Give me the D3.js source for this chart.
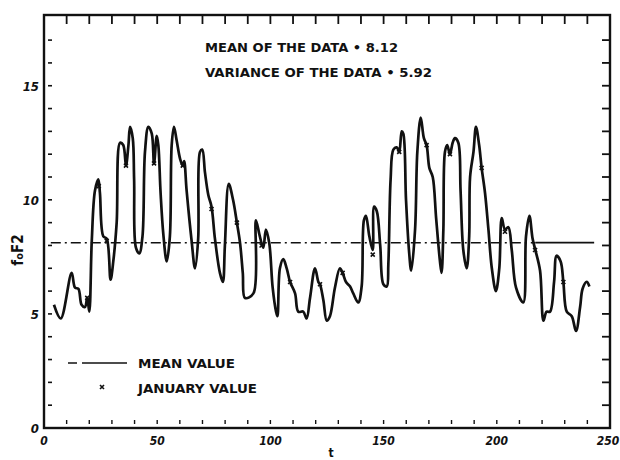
<!DOCTYPE html>
<html>
<head>
<meta charset="utf-8">
<script src="https://cdn.jsdelivr.net/npm/d3@7"></script>
<style>
  html, body { margin: 0; padding: 0; background: #fff; }
  svg { display: block; }
  text { font-family: "DejaVu Sans Condensed", "Liberation Sans Narrow", "DejaVu Sans", sans-serif; font-weight: bold; fill: #111; }
</style>
</head>
<body>
<svg id="chart" width="620" height="460"></svg>
<script>
// ---- data ----
const tValues = [4.4,7.4,12.2,13.7,15.2,16.6,18.1,19.1,20,21.1,22.5,24,24.7,26.2,27.7,29.4,30.6,32.1,33.6,35,36.2,37.3,38,39.2,39.8,40.6,42.1,43.5,44.6,46.1,47.6,48.6,49.8,50.5,51.5,52.7,54.2,55.6,56.4,57.4,58.6,60.1,61.3,61.9,63,65.2,66.7,68.1,68.9,69.9,71.1,72.6,74,75.5,77.7,79,79.9,81.6,83.5,85.2,86.6,87.8,88.8,92.5,93.6,95.1,96.1,96.9,98,99.5,101,102.5,103.1,104.2,105.7,107.2,108.7,110.9,112.3,114.5,116,117.5,119.7,121.2,121.9,123.4,124.9,126.3,128.5,130.7,131.9,133.4,135.2,136.6,138.8,140.3,141.3,142.2,143.7,145.2,145.8,147,148.5,149.9,151.4,152.1,153.1,154.3,155.8,156.9,158,158.7,159.9,161.2,162.2,163.9,164.9,166.4,167.8,169,170.2,171.7,173.2,174.9,175.6,176.4,177.1,178.1,179.3,180.5,181.5,183,184,185.2,186.7,187.8,188.2,189.7,190.8,192.2,193.3,194.8,196.3,197.8,199.6,201.1,202.2,203.6,205.1,206.6,208.5,211.7,212.9,214.4,215.8,216.9,219.1,220.6,222,223.5,225.3,226.4,228.2,229.4,230.9,233.1,235,236.8,237.9,239.7,240.9];
const foF2 = [5.4,4.8,6.8,6.15,6.1,5.4,5.3,5.7,5.1,8.2,10.4,10.9,10.3,8.4,8.3,6.5,7.3,9.0,12.5,12.4,11.5,12.4,13.2,12.7,10.9,7.9,7.65,8.4,12.1,13.2,12.9,11.6,12.8,12.4,10.3,8.5,7.3,8.4,12.4,13.2,12.6,11.8,11.5,11.7,10.4,8.2,7.0,8.3,12.1,12.2,11.2,10.2,9.7,8.3,6.8,6.4,8.0,10.7,10.0,9.0,8.1,6.8,5.7,5.9,9.1,8.5,8.1,7.9,8.7,8.1,6.15,5.1,4.9,7.0,7.4,7.0,6.4,5.9,5.1,5.1,4.8,5.7,7.0,6.4,6.3,5.6,4.7,4.9,6.15,7.0,6.8,6.4,6.2,5.9,5.5,6.2,9.1,9.3,8.4,7.8,9.7,9.5,8.0,6.3,6.2,7.2,10.9,12.2,12.3,12.1,13.0,12.9,10.0,7.8,6.9,8.7,12.1,13.6,12.7,12.4,11.4,11.0,9.2,7.3,6.8,8.7,12.1,12.4,12.0,12.5,12.7,12.5,10.4,7.8,7.0,8.4,11.0,12.1,13.2,12.4,11.4,10.3,8.7,7.0,6.0,7.0,9.2,8.7,8.8,7.8,6.15,5.5,8.4,9.3,8.3,7.85,6.9,4.7,5.1,5.1,6.4,7.55,7.3,6.4,5.1,4.9,4.25,5.3,6.1,6.4,6.2];
const januaryT = [19.1,24.2,27.7,36.2,48.6,61.3,74,85.2,96.1,108.7,121.9,131.9,145.2,156.9,169,179.3,193.3,203.6,216.9,229.4];
const januaryV = [5.7,10.6,8.2,11.5,11.6,11.5,9.6,9.0,8.0,6.4,6.3,6.8,7.6,12.1,12.4,12.0,11.4,8.6,7.8,6.4];
const meanValue = 8.12;
const varianceValue = 5.92;
const xTickLabels = [0, 50, 100, 150, 200, 250];
const yTickLabels = [0, 5, 10, 15];
const annotationLines = ["MEAN OF THE DATA \u2022 8.12", "VARIANCE OF THE DATA \u2022 5.92"];
const legendLabels = ["MEAN VALUE", "JANUARY VALUE"];

// ---- layout ----
const svg = d3.select("#chart");
const x = d3.scaleLinear().domain([0, 250]).range([44, 610]);
const y = d3.scaleLinear().domain([0, 18.1]).range([428, 15]);
const ink = "#111";

const g = svg.append("g");
g.append("rect").attr("x", x(0)).attr("y", y(18.1)).attr("width", x(250) - x(0)).attr("height", y(0) - y(18.1))
  .attr("fill", "none").attr("stroke", ink).attr("stroke-width", 2.4);

// left minor ticks
g.selectAll(".lt").data(d3.range(1, 18)).join("line")
  .attr("x1", x(0) + 4).attr("x2", x(0) + 8).attr("y1", d => y(d)).attr("y2", d => y(d))
  .attr("stroke", ink).attr("stroke-width", 1.6);
// right ticks
g.selectAll(".rt").data(d3.range(1, 18)).join("line")
  .attr("x1", x(250)).attr("x2", x(250) - 8).attr("y1", d => y(d)).attr("y2", d => y(d))
  .attr("stroke", ink).attr("stroke-width", 1.8);
// top ticks
g.selectAll(".tt").data(d3.range(10, 250, 10)).join("line")
  .attr("x1", d => x(d)).attr("x2", d => x(d)).attr("y1", y(18.1)).attr("y2", y(18.1) + 9)
  .attr("stroke", ink).attr("stroke-width", 1.8);
// bottom ticks
g.selectAll(".bt").data(d3.range(10, 250, 10)).join("line")
  .attr("x1", d => x(d)).attr("x2", d => x(d)).attr("y1", y(0) - 4).attr("y2", y(0) - 8)
  .attr("stroke", ink).attr("stroke-width", 1.4);

// tick labels
g.selectAll(".xl").data(xTickLabels).join("text")
  .attr("x", d => d === 250 ? x(d) - 2 : x(d)).attr("y", y(0) + 17).attr("text-anchor", "middle")
  .attr("font-size", 13).attr("font-style", "italic")
  .attr("textLength", d => String(d).length * 7.5).attr("lengthAdjust", "spacingAndGlyphs")
  .text(d => d);
g.selectAll(".yl").data(yTickLabels).join("text")
  .attr("x", x(0) - 5).attr("y", d => y(d) + 5).attr("text-anchor", "end")
  .attr("font-size", 13).attr("font-style", "italic").text(d => d);

// axis titles
const yt = g.append("text").attr("transform", "translate(23,250) rotate(-90)")
  .attr("text-anchor", "middle").attr("font-size", 15);
yt.append("tspan").text("f");
yt.append("tspan").attr("font-size", 11).text("o");
yt.append("tspan").text("F2");
g.append("text").attr("x", 331).attr("y", 457).attr("text-anchor", "middle").attr("font-size", 12).text("t");

// mean line
g.append("line").attr("x1", x(3)).attr("x2", x(217)).attr("y1", y(meanValue)).attr("y2", y(meanValue))
  .attr("stroke", ink).attr("stroke-width", 1.5).attr("stroke-dasharray", "10,4,2,4");
g.append("line").attr("x1", x(217)).attr("x2", x(243)).attr("y1", y(meanValue)).attr("y2", y(meanValue))
  .attr("stroke", ink).attr("stroke-width", 1.8);

// data curve
const pts = tValues.map((t, i) => [t, foF2[i]]);
g.append("path").datum(pts)
  .attr("d", d3.line().x(d => x(d[0])).y(d => y(d[1])).curve(d3.curveCatmullRom.alpha(0.5)))
  .attr("fill", "none").attr("stroke", ink).attr("stroke-width", 2.7).attr("stroke-linejoin", "round");

// January markers
const jan = januaryT.map((t, i) => [t, januaryV[i]]);
g.selectAll(".jm").data(jan).join("path")
  .attr("d", d => { const cx = x(d[0]), cy = y(d[1]); return `M${cx-2},${cy-2}L${cx+2},${cy+2}M${cx-2},${cy+2}L${cx+2},${cy-2}`; })
  .attr("stroke", ink).attr("stroke-width", 1.6);

// annotation
g.append("text").attr("x", 205).attr("y", 52).attr("font-size", 12.5)
  .attr("textLength", 193).attr("lengthAdjust", "spacingAndGlyphs").text(annotationLines[0]);
g.append("text").attr("x", 205).attr("y", 77).attr("font-size", 12.5)
  .attr("textLength", 227).attr("lengthAdjust", "spacingAndGlyphs").text(annotationLines[1]);

// legend
g.append("line").attr("x1", 68).attr("x2", 77).attr("y1", 363).attr("y2", 363).attr("stroke", ink).attr("stroke-width", 1.5);
g.append("line").attr("x1", 82).attr("x2", 127).attr("y1", 363).attr("y2", 363).attr("stroke", ink).attr("stroke-width", 1.5);
g.append("text").attr("x", 138).attr("y", 368).attr("font-size", 12.5)
  .attr("textLength", 97).attr("lengthAdjust", "spacingAndGlyphs").text(legendLabels[0]);
g.append("path").attr("d", `M100,385L104,389M100,389L104,385`).attr("stroke", ink).attr("stroke-width", 1.6);
g.append("text").attr("x", 138).attr("y", 393).attr("font-size", 12.5)
  .attr("textLength", 119).attr("lengthAdjust", "spacingAndGlyphs").text(legendLabels[1]);
</script>
</body>
</html>
